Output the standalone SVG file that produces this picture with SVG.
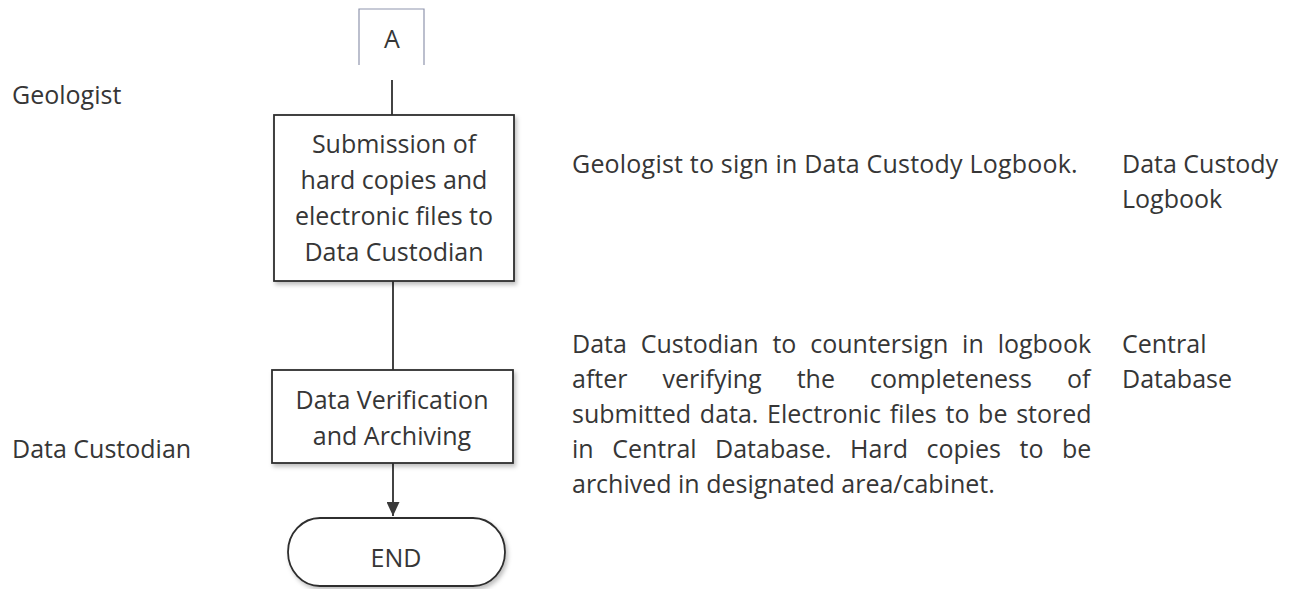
<svg xmlns="http://www.w3.org/2000/svg" width="1294" height="589" viewBox="0 0 1294 589">
<style>
  text { font-family: "Open Sans", "Noto Sans", sans-serif; font-size: 25px; fill: #363636; }
  .c { text-anchor: middle; }
  .box { fill: #ffffff; stroke: #2e2e2e; stroke-width: 1.8; }
  .conn { stroke: #2e2e2e; stroke-width: 1.8; fill: none; }
  .off { fill: none; stroke: #8f95ad; stroke-width: 1.2; }
</style>
<defs>
  <filter id="sh" x="-10%" y="-10%" width="125%" height="130%">
    <feDropShadow dx="2" dy="3" stdDeviation="2" flood-color="#000" flood-opacity="0.25"/>
  </filter>
  <marker id="arr" viewBox="0 0 14 13" refX="14" refY="6.5" markerWidth="14" markerHeight="13" markerUnits="userSpaceOnUse" orient="auto">
    <path d="M0,0 L14,6.5 L0,13 Z" fill="#3a3a3a"/>
  </marker>
</defs>
<rect width="1294" height="589" fill="#ffffff"/>

<g id="lanes">
  <text x="12" y="104">Geologist</text>
  <text x="12" y="458">Data Custodian</text>
</g>

<g id="connectors">
  <line class="conn" x1="392" y1="80" x2="392" y2="115"/>
  <line class="conn" x1="393" y1="281" x2="393" y2="370"/>
  <line class="conn" x1="393" y1="463" x2="393" y2="516" marker-end="url(#arr)"/>
</g>

<g id="node-A">
  <path class="off" d="M359,65 V9 H424 V65"/>
  <text class="c" x="392" y="48">A</text>
</g>

<g id="node-submission">
  <rect class="box" x="274" y="115" width="240" height="166" filter="url(#sh)"/>
  <text class="c" x="394" y="153">Submission of</text>
  <text class="c" x="394" y="189">hard copies and</text>
  <text class="c" x="394" y="225">electronic files to</text>
  <text class="c" x="394" y="261">Data Custodian</text>
</g>

<g id="node-verification">
  <rect class="box" x="272" y="370" width="241" height="93" filter="url(#sh)"/>
  <text class="c" x="392" y="409">Data Verification</text>
  <text class="c" x="392" y="445">and Archiving</text>
</g>

<g id="node-end">
  <rect class="box" x="288" y="518" width="217" height="68" rx="32" ry="34" filter="url(#sh)"/>
  <text class="c" x="396" y="567">END</text>
</g>

<g id="notes">
  <text x="572" y="173" letter-spacing="0.2">Geologist to sign in Data Custody Logbook.</text>
  <text x="1122" y="173">Data Custody</text>
  <text x="1122" y="208">Logbook</text>
  <text x="572" y="353" word-spacing="7.4">Data Custodian to countersign in logbook</text>
  <text x="572" y="388" word-spacing="28.5">after verifying the completeness of</text>
  <text x="572" y="423" word-spacing="2.2">submitted data. Electronic files to be stored</text>
  <text x="572" y="458" word-spacing="12">in Central Database. Hard copies to be</text>
  <text x="572" y="493">archived in designated area/cabinet.</text>
  <text x="1122" y="353">Central</text>
  <text x="1122" y="388">Database</text>
</g>
</svg>
